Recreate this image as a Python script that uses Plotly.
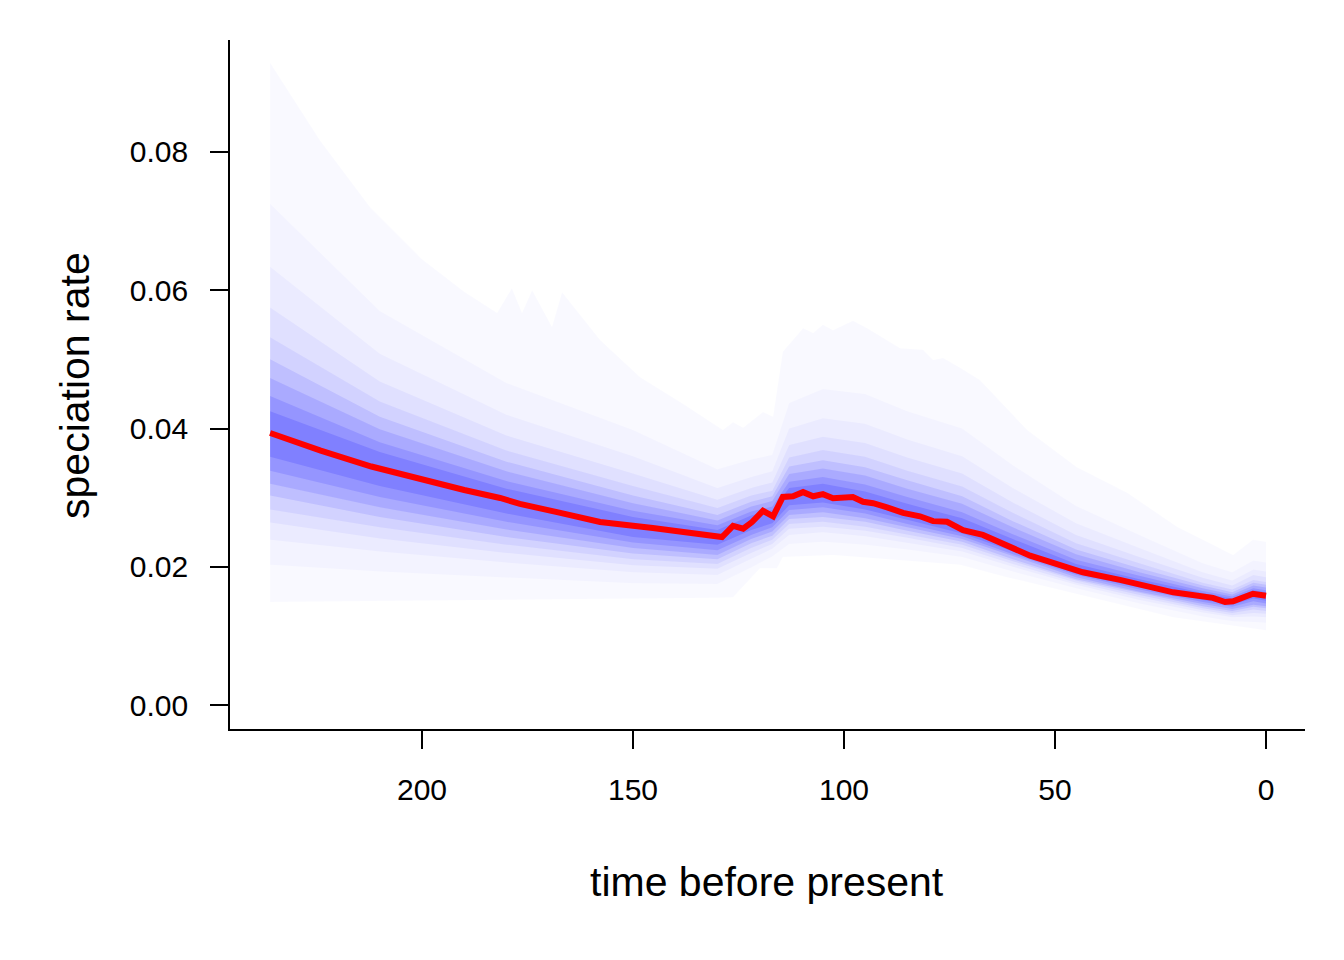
import plotly.graph_objects as go

# ---- data ----
# mean speciation rate (red line)
mean_t = [236.0, 224.0, 212.0, 206.9, 200.0, 190.0, 181.5, 176.8, 168.0, 157.8, 145.3, 136.0,
          128.9, 126.3, 123.9, 121.8, 119.2, 116.8, 114.5, 112.1, 109.7, 107.3, 105.0,
          102.6, 97.9, 95.5, 93.1, 89.8, 86.0, 82.0, 78.9, 75.6, 72.5, 71.8, 67.1,
          61.4, 55.9, 51.2, 43.4, 34.6, 28.2, 22.0, 12.6, 9.7, 7.8, 3.1, 0.0]
mean_v = [0.03935, 0.0368, 0.0345, 0.0337, 0.0326, 0.0311, 0.02995, 0.0291, 0.0279, 0.02647,
          0.0256, 0.0249, 0.0243, 0.0259, 0.0255, 0.02647, 0.0281, 0.0273, 0.0301,
          0.0302, 0.0308, 0.0302, 0.0305, 0.0299, 0.0301, 0.0294, 0.0292, 0.0286,
          0.0278, 0.0273, 0.0266, 0.0265, 0.0256, 0.0253, 0.0246, 0.0231, 0.0216,
          0.0207, 0.0192, 0.0181, 0.0171, 0.0163, 0.0155, 0.0149, 0.0150, 0.0161, 0.0158]

# outer envelope (widest interval, 5% / 95%)
upper_t = [236.0, 224.2, 212.3, 200.0, 190.0, 182.2, 178.7, 176.3, 173.9, 169.2, 166.8,
           157.8, 148.3, 138.0, 128.7, 126.3, 123.9, 119.2, 116.8, 114.5, 109.7, 107.3,
           105.0, 102.6, 97.9, 94.5, 86.7, 81.3, 78.9, 76.5, 72.5, 67.8, 56.6, 44.8,
           32.9, 21.1, 7.8, 3.1, 0.0]
upper_v = [0.0929, 0.0817, 0.0720, 0.0645, 0.0598, 0.0567, 0.0603, 0.0567, 0.0600, 0.0547,
           0.0597, 0.0528, 0.0474, 0.0435, 0.0398, 0.0409, 0.0401, 0.0424, 0.0417, 0.0511,
           0.0545, 0.0538, 0.0550, 0.0542, 0.0556, 0.0545, 0.0516, 0.0514, 0.0499, 0.0502,
           0.0488, 0.0470, 0.0398, 0.0344, 0.0307, 0.0258, 0.0217, 0.0239, 0.0236]
lower_t = [236.0, 180.0, 130.0, 126.3, 119.9, 115.9, 114.5, 102.6, 86.7, 72.5, 61.4,
           45.7, 22.0, 0.0]
lower_v = [0.0149, 0.0152, 0.0155, 0.0156, 0.0198, 0.0198, 0.0214, 0.0217, 0.0210,
           0.0203, 0.0185, 0.0162, 0.0127, 0.0108]

# inner quantile bands (estimated from the shading)
band_t = [236, 210, 180, 150, 130, 122, 117, 113, 105, 95, 85, 72, 60, 45, 30, 15, 8, 3, 0]
q10 = [.0203, .0193, .0184, .0176, .0175, .0199, .0215, .0233, .0236, .0232, .0225, .0214, .0193, .0169, .0147, .0128, .0121, .0120, .0119]
q15 = [.0239, .0222, .0206, .0192, .0188, .0211, .0226, .0246, .0250, .0244, .0235, .0222, .0200, .0174, .0152, .0134, .0127, .0128, .0127]
q20 = [.0264, .0241, .0220, .0202, .0197, .0220, .0233, .0255, .0258, .0252, .0242, .0227, .0204, .0177, .0156, .0137, .0130, .0133, .0132]
q25 = [.0283, .0257, .0232, .0211, .0204, .0227, .0239, .0262, .0265, .0258, .0247, .0232, .0208, .0180, .0159, .0140, .0133, .0138, .0136]
q30 = [.0303, .0272, .0243, .0219, .0211, .0234, .0245, .0269, .0272, .0265, .0252, .0236, .0211, .0182, .0162, .0143, .0136, .0142, .0140]
q35 = [.0320, .0286, .0254, .0227, .0217, .0240, .0251, .0275, .0279, .0270, .0257, .0240, .0215, .0185, .0164, .0146, .0139, .0145, .0143]
q40 = [.0339, .0301, .0265, .0235, .0224, .0246, .0257, .0282, .0286, .0277, .0262, .0244, .0218, .0188, .0167, .0149, .0142, .0150, .0147]
q45 = [.0359, .0317, .0277, .0243, .0232, .0253, .0263, .0289, .0293, .0283, .0268, .0248, .0222, .0190, .0170, .0152, .0145, .0154, .0151]
q55 = [.0425, .0366, .0313, .0272, .0253, .0274, .0282, .0314, .0320, .0309, .0291, .0270, .0240, .0204, .0182, .0162, .0154, .0166, .0163]
q60 = [.0447, .0380, .0324, .0281, .0260, .0280, .0287, .0323, .0330, .0319, .0301, .0279, .0247, .0210, .0187, .0165, .0157, .0169, .0166]
q65 = [.0473, .0399, .0338, .0292, .0267, .0287, .0295, .0334, .0342, .0332, .0313, .0291, .0257, .0218, .0192, .0169, .0160, .0173, .0170]
q70 = [.0500, .0417, .0352, .0303, .0275, .0294, .0302, .0345, .0354, .0344, .0325, .0302, .0266, .0225, .0198, .0173, .0163, .0177, .0174]
q75 = [.0532, .0439, .0368, .0317, .0285, .0303, .0310, .0358, .0369, .0359, .0339, .0316, .0278, .0234, .0205, .0177, .0167, .0181, .0178]
q80 = [.0575, .0468, .0390, .0335, .0297, .0314, .0322, .0376, .0388, .0379, .0358, .0335, .0293, .0246, .0214, .0184, .0173, .0188, .0185]
q85 = [.0634, .0508, .0420, .0360, .0314, .0330, .0338, .0400, .0415, .0407, .0384, .0360, .0314, .0263, .0227, .0192, .0180, .0196, .0193]
q90 = [.0725, .0570, .0466, .0398, .0341, .0355, .0362, .0437, .0457, .0450, .0425, .0400, .0347, .0288, .0246, .0205, .0192, .0209, .0206]

x_ticks = [200, 150, 100, 50, 0]
y_ticks = [0.00, 0.02, 0.04, 0.06, 0.08]

FONT = "Liberation Sans, Arial, Helvetica, sans-serif"

fig = go.Figure()


def band(t_lo, v_lo, t_hi, v_hi, alpha):
    xs = list(t_hi) + list(reversed(t_lo))
    ys = list(v_hi) + list(reversed(v_lo))
    fig.add_trace(go.Scatter(x=xs, y=ys, mode="lines", fill="toself",
                             fillcolor=f"rgba(0,0,255,{alpha})",
                             line=dict(width=0, color="rgba(0,0,0,0)"),
                             hoverinfo="skip", showlegend=False))


band(lower_t, lower_v, upper_t, upper_v, 0.022)
band(band_t, q10, band_t, q90, 0.024)
band(band_t, q15, band_t, q85, 0.030)
band(band_t, q20, band_t, q80, 0.044)
band(band_t, q25, band_t, q75, 0.060)
band(band_t, q30, band_t, q70, 0.090)
band(band_t, q35, band_t, q65, 0.105)
band(band_t, q40, band_t, q60, 0.12)
band(band_t, q45, band_t, q55, 0.14)

fig.add_trace(go.Scatter(x=mean_t, y=mean_v, mode="lines",
                         line=dict(color="#ff0000", width=6),
                         hoverinfo="skip", showlegend=False))

axis_common = dict(showline=True, linecolor="black", linewidth=1.6,
                   ticks="outside", ticklen=18, tickwidth=1.6, tickcolor="black",
                   showgrid=False, zeroline=False, mirror=False,
                   tickfont=dict(family=FONT, size=30, color="black"))

fig.update_xaxes(range=[245.5, -9.24], tickvals=x_ticks,
                 ticktext=[str(v) for v in x_ticks], ticklabelstandoff=15,
                 **axis_common)
fig.update_yaxes(range=[-0.00347, 0.0962], tickvals=y_ticks,
                 ticktext=[f"{v:.2f}" for v in y_ticks], ticklabelstandoff=16,
                 **axis_common)

fig.update_layout(
    width=1344, height=960,
    margin=dict(l=222, r=47, t=32, b=239, autoexpand=False),
    paper_bgcolor="white", plot_bgcolor="white",
    font=dict(family=FONT, color="black"),
    annotations=[
        dict(text="time before present", xref="paper", yref="paper",
             x=0.4995, y=-0.222, xanchor="center", yanchor="middle",
             showarrow=False, font=dict(family=FONT, size=41, color="black")),
        dict(text="speciation rate", xref="paper", yref="paper",
             x=-0.1442, y=0.4993, xanchor="center", yanchor="middle", textangle=-90,
             showarrow=False, font=dict(family=FONT, size=41, color="black")),
    ],
)

fig.write_html("out.html")
